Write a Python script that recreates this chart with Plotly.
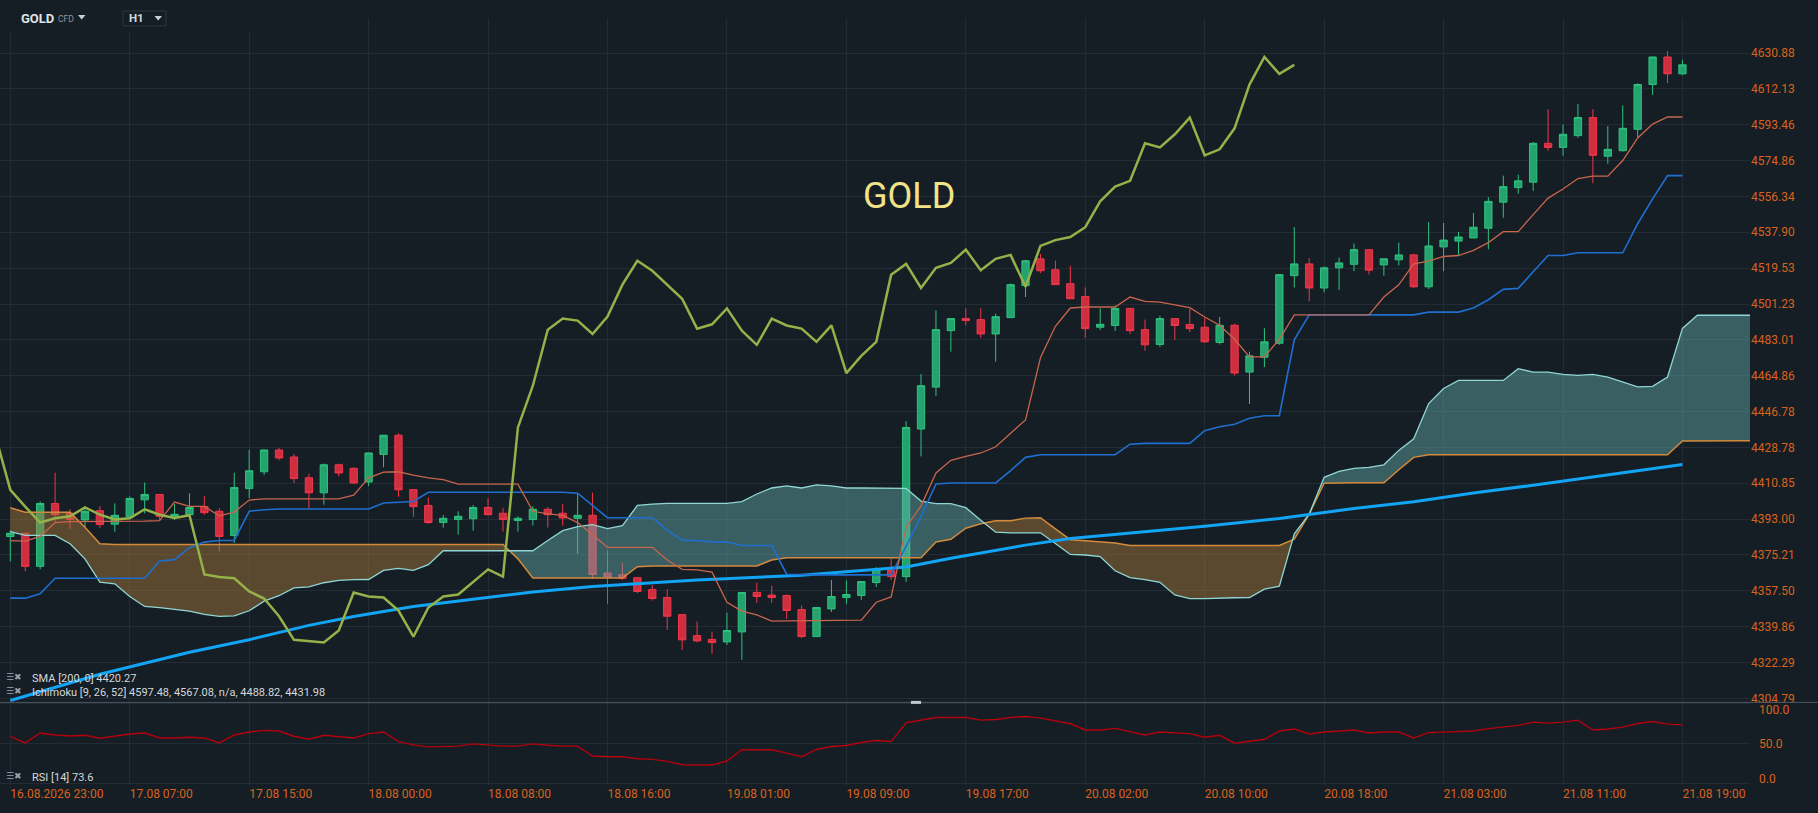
import numpy as np
import plotly.graph_objects as go

# ---- data ----
x_labels = ["16.08.2026 23:00", "17.08 07:00", "17.08 15:00", "18.08 00:00", "18.08 08:00",
            "18.08 16:00", "19.08 01:00", "19.08 09:00", "19.08 17:00", "20.08 02:00",
            "20.08 10:00", "20.08 18:00", "21.08 03:00", "21.08 11:00", "21.08 19:00"]
x_label_idx = list(range(0, 113, 8))

price_ticks = [4630.88, 4612.13, 4593.46, 4574.86, 4556.34, 4537.90, 4519.53, 4501.23, 4483.01,
               4464.86, 4446.78, 4428.78, 4410.85, 4393.00, 4375.21, 4357.50, 4339.86, 4322.29, 4304.79]

opens = [4384.4, 4386.0, 4369.6, 4400.8, 4395.9, 4392.6, 4397.2, 4390.5, 4394.2, 4402.6,
         4405.3, 4394.4, 4395.2, 4399.3, 4396.9, 4384.9, 4408.2, 4416.6, 4427.5, 4424.0,
         4413.6, 4406.1, 4420.1, 4418.3, 4411.5, 4425.3, 4434.9, 4407.7, 4399.8, 4391.3,
         4392.8, 4393.2, 4398.8, 4395.9, 4392.3, 4392.8, 4397.9, 4395.9, 4393.4, 4394.9,
         4366.3, 4365.5, 4364.0, 4358.1, 4354.2, 4345.8, 4335.5, 4333.6, 4332.4, 4337.3,
         4356.7, 4355.4, 4355.2, 4348.3, 4335.0, 4348.6, 4354.2, 4355.2, 4361.6, 4367.5,
         4364.5, 4438.0, 4459.1, 4487.7, 4493.8, 4493.3, 4486.0, 4494.3, 4510.6, 4524.3,
         4518.7, 4511.6, 4505.0, 4489.4, 4490.3, 4499.0, 4488.2, 4480.7, 4493.8, 4490.8,
         4489.4, 4481.7, 4490.4, 4466.7, 4474.2, 4481.3, 4515.7, 4521.7, 4509.4, 4519.7,
         4521.5, 4529.0, 4521.2, 4523.8, 4526.3, 4510.0, 4530.4, 4533.4, 4535.0, 4540.0,
         4553.4, 4560.9, 4563.7, 4583.8, 4581.7, 4587.8, 4597.2, 4577.1, 4580.0, 4591.1,
         4614.4, 4628.8, 4620.0]
highs = [4387.6, 4386.3, 4401.8, 4416.1, 4397.9, 4398.0, 4399.5, 4400.8, 4404.4, 4411.2,
         4405.4, 4400.5, 4405.9, 4404.4, 4398.5, 4416.1, 4427.6, 4427.8, 4428.5, 4425.5,
         4415.6, 4420.7, 4420.7, 4418.9, 4426.1, 4435.0, 4435.9, 4407.9, 4403.8, 4395.1,
         4396.9, 4400.0, 4403.4, 4398.5, 4394.4, 4399.5, 4399.0, 4400.5, 4405.9, 4406.2,
         4377.5, 4371.4, 4364.4, 4360.4, 4358.3, 4346.0, 4342.4, 4337.5, 4346.8, 4356.8,
         4361.6, 4360.1, 4355.7, 4350.3, 4349.5, 4362.9, 4362.7, 4362.2, 4369.1, 4374.0,
         4441.9, 4465.7, 4498.0, 4494.0, 4499.0, 4499.0, 4496.3, 4511.7, 4523.8, 4526.8,
         4523.4, 4520.7, 4509.7, 4499.0, 4500.4, 4499.2, 4493.3, 4495.3, 4494.0, 4498.7,
         4494.1, 4494.6, 4491.2, 4477.0, 4488.9, 4516.3, 4540.6, 4524.6, 4520.4, 4524.9,
         4532.1, 4529.2, 4524.4, 4532.6, 4526.8, 4543.2, 4542.7, 4538.1, 4547.8, 4556.0,
         4567.1, 4567.6, 4584.5, 4601.5, 4593.6, 4604.2, 4601.5, 4592.8, 4603.5, 4615.1,
         4629.0, 4631.9, 4627.3]
lows = [4372.0, 4367.1, 4368.1, 4391.4, 4388.2, 4389.0, 4388.6, 4386.8, 4393.9, 4395.9,
        4392.2, 4392.6, 4395.0, 4395.2, 4377.0, 4381.1, 4403.4, 4415.0, 4422.4, 4411.0,
        4397.9, 4400.2, 4414.3, 4410.4, 4409.4, 4418.9, 4404.1, 4394.2, 4390.6, 4388.8,
        4385.3, 4387.3, 4395.0, 4386.8, 4386.8, 4389.8, 4388.8, 4389.8, 4375.8, 4363.5,
        4351.1, 4362.9, 4356.3, 4352.7, 4338.3, 4328.5, 4332.1, 4326.5, 4330.9, 4323.6,
        4351.6, 4351.6, 4343.7, 4334.2, 4334.9, 4347.1, 4351.1, 4353.1, 4359.4, 4362.9,
        4361.9, 4424.3, 4454.7, 4477.0, 4490.3, 4484.0, 4472.0, 4494.1, 4504.8, 4517.0,
        4510.9, 4503.8, 4484.0, 4488.0, 4487.5, 4486.0, 4477.5, 4479.5, 4483.0, 4486.9,
        4481.5, 4480.7, 4465.0, 4450.6, 4469.2, 4480.5, 4509.7, 4502.6, 4507.2, 4508.4,
        4518.0, 4516.3, 4515.7, 4520.9, 4509.4, 4508.9, 4518.0, 4526.3, 4534.8, 4529.2,
        4545.4, 4557.7, 4559.2, 4580.0, 4577.4, 4586.7, 4563.2, 4573.3, 4579.5, 4587.1,
        4609.0, 4615.2, 4619.3]
closes = [4386.0, 4369.6, 4400.8, 4395.2, 4392.8, 4396.9, 4390.3, 4394.9, 4403.3, 4405.3,
          4394.4, 4395.4, 4398.8, 4396.2, 4384.4, 4408.7, 4417.1, 4427.5, 4423.5, 4413.2,
          4406.1, 4420.1, 4416.0, 4411.0, 4426.0, 4434.9, 4407.6, 4399.2, 4391.3, 4393.4,
          4394.4, 4398.8, 4395.2, 4392.8, 4393.4, 4397.9, 4395.2, 4393.6, 4394.9, 4365.6,
          4364.3, 4363.7, 4357.2, 4353.7, 4345.0, 4333.4, 4332.9, 4332.1, 4338.0, 4356.7,
          4354.7, 4354.2, 4347.8, 4335.0, 4349.3, 4354.7, 4355.7, 4362.1, 4368.1, 4364.5,
          4438.8, 4459.8, 4488.2, 4493.8, 4492.8, 4486.0, 4494.8, 4511.1, 4523.3, 4518.2,
          4511.1, 4503.9, 4488.7, 4490.9, 4499.0, 4487.7, 4480.5, 4493.8, 4490.3, 4488.7,
          4482.0, 4490.4, 4466.2, 4474.9, 4482.0, 4516.2, 4521.7, 4509.4, 4519.7, 4522.2,
          4529.0, 4518.5, 4524.3, 4526.3, 4510.0, 4530.9, 4533.9, 4535.5, 4540.5, 4553.8,
          4561.4, 4564.4, 4583.8, 4581.7, 4588.5, 4597.2, 4577.6, 4580.7, 4591.6, 4614.4,
          4628.8, 4620.0, 4624.7]

tenkan = [4382.3, 4382.1, 4384.4, 4391.3, 4391.8, 4391.8, 4391.8, 4391.8, 4391.8, 4392.0,
          4392.3, 4401.5, 4399.3, 4399.3, 4394.6, 4396.5, 4402.5, 4403.1, 4403.1, 4403.1,
          4403.1, 4403.1, 4403.1, 4404.9, 4413.6, 4416.4, 4416.6, 4414.9, 4413.6, 4412.7,
          4410.4, 4410.4, 4410.4, 4410.4, 4410.4, 4396.9, 4395.6, 4394.9, 4391.3, 4385.2,
          4379.0, 4379.0, 4379.0, 4379.0, 4372.7, 4368.1, 4367.8, 4366.7, 4351.9, 4347.5,
          4345.7, 4342.6, 4342.7, 4342.8, 4342.8, 4342.9, 4343.0, 4343.1, 4351.9, 4354.5,
          4389.0, 4399.6, 4416.0, 4422.3, 4424.3, 4426.0, 4429.1, 4436.0, 4442.6, 4474.0,
          4489.9, 4499.2, 4499.7, 4499.7, 4499.7, 4504.8, 4502.6, 4502.2, 4500.9, 4499.4,
          4494.6, 4490.4, 4483.3, 4474.4, 4474.4, 4483.3, 4495.7, 4495.7, 4495.7, 4495.7,
          4495.7, 4495.7, 4504.8, 4511.0, 4521.7, 4523.1, 4525.5, 4526.0, 4528.6, 4532.6,
          4538.2, 4538.2, 4547.0, 4555.5, 4560.2, 4565.6, 4566.8, 4566.8, 4574.9, 4586.6,
          4593.8, 4597.48, 4597.48]
kijun = [4353.9, 4353.9, 4356.1, 4363.7, 4363.7, 4363.7, 4363.7, 4363.7, 4363.7, 4363.7,
         4372.2, 4372.9, 4378.8, 4381.6, 4382.4, 4382.4, 4396.9, 4397.7, 4398.0, 4398.0,
         4398.0, 4398.0, 4398.0, 4398.0, 4398.0, 4401.0, 4401.4, 4401.8, 4406.4, 4406.4,
         4406.4, 4406.4, 4406.4, 4406.4, 4406.4, 4406.4, 4406.4, 4406.4, 4405.9, 4400.0,
         4393.7, 4393.7, 4393.7, 4393.7, 4387.5, 4382.6, 4382.4, 4381.7, 4381.6, 4379.9,
         4379.9, 4379.9, 4365.7, 4365.4, 4365.4, 4365.4, 4365.4, 4365.4, 4365.4, 4365.4,
         4379.5, 4394.4, 4410.5, 4411.0, 4411.0, 4411.0, 4411.0, 4417.2, 4423.8, 4425.1,
         4425.1, 4425.1, 4425.1, 4425.1, 4425.1, 4430.4, 4430.8, 4430.8, 4430.8, 4430.8,
         4437.2, 4439.2, 4440.4, 4443.4, 4444.7, 4444.7, 4483.0, 4495.7, 4495.7, 4495.7,
         4495.7, 4495.7, 4495.7, 4495.7, 4495.7, 4497.1, 4497.1, 4497.1, 4499.2, 4503.4,
         4508.7, 4509.2, 4517.7, 4526.0, 4526.0, 4527.4, 4527.4, 4527.4, 4527.4, 4542.3,
         4555.1, 4567.08, 4567.08]

# leading spans run 26 bars past the last candle; only the part inside the window is kept
span_a = [4386.8, 4384.9, 4384.9, 4384.9, 4380.8, 4373.3, 4361.8, 4361.0, 4354.7, 4349.8,
          4349.2, 4348.2, 4347.5, 4345.9, 4344.9, 4345.2, 4347.7, 4352.4, 4355.1, 4359.0,
          4359.5, 4361.5, 4362.7, 4363.0, 4363.1, 4367.6, 4368.6, 4367.6, 4370.4, 4377.3,
          4377.3, 4377.3, 4377.3, 4377.3, 4377.3, 4377.3, 4382.4, 4387.3, 4389.3, 4390.3,
          4388.3, 4389.8, 4399.8, 4400.5, 4400.8, 4400.8, 4400.8, 4400.8, 4400.8, 4401.7,
          4405.5, 4408.5, 4409.6, 4408.5, 4410.1, 4409.6, 4408.5, 4408.5, 4408.5, 4408.5,
          4408.3, 4402.0, 4400.7, 4400.7, 4398.7, 4392.5, 4386.5, 4386.2, 4386.2, 4386.2,
          4380.9, 4375.5, 4375.2, 4374.4, 4367.4, 4364.0, 4363.0, 4361.7, 4355.5, 4353.7,
          4353.7, 4354.0, 4354.1, 4354.2, 4358.3, 4359.8, 4385.7, 4395.5, 4413.8, 4416.8,
          4418.3, 4418.8, 4420.1, 4427.3, 4433.1, 4450.8, 4458.4, 4462.5, 4462.5, 4462.5,
          4462.5, 4468.4, 4466.7, 4466.7, 4465.5, 4465.0, 4465.5, 4464.2, 4461.7, 4459.2,
          4459.5, 4464.2, 4488.82, 4495.5, 4495.5, 4495.5, 4495.5, 4495.5]
span_b = [4398.7, 4396.4, 4396.4, 4396.4, 4396.4, 4389.0, 4380.8, 4380.4, 4380.4, 4380.4,
          4380.4, 4380.4, 4380.4, 4380.4, 4380.4, 4380.4, 4380.4, 4380.4, 4380.4, 4380.4,
          4380.4, 4380.4, 4380.4, 4380.4, 4380.4, 4380.4, 4380.4, 4380.4, 4380.4, 4380.4,
          4380.4, 4380.4, 4380.4, 4380.4, 4373.3, 4363.8, 4363.8, 4363.8, 4363.8, 4363.8,
          4363.8, 4363.8, 4369.4, 4369.8, 4369.8, 4369.8, 4369.8, 4369.8, 4369.8, 4369.8,
          4369.8, 4372.7, 4373.8, 4373.8, 4373.8, 4373.8, 4373.8, 4373.8, 4373.8, 4373.8,
          4373.8, 4373.8, 4381.7, 4383.0, 4388.5, 4390.7, 4392.2, 4392.2, 4393.5, 4393.7,
          4388.2, 4382.8, 4382.3, 4381.7, 4381.2, 4379.9, 4379.9, 4379.9, 4379.9, 4379.9,
          4379.9, 4379.9, 4379.9, 4379.9, 4379.9, 4379.9, 4383.1, 4395.5, 4410.9, 4411.1,
          4411.1, 4411.1, 4411.1, 4417.6, 4423.8, 4425.1, 4425.1, 4425.1, 4425.1, 4425.1,
          4425.1, 4425.1, 4425.1, 4425.1, 4425.1, 4425.1, 4425.1, 4425.1, 4425.1, 4425.1,
          4425.1, 4425.1, 4431.98, 4432.1, 4432.1, 4432.1, 4432.1, 4432.1]

# SMA 200 read at a handful of bars (it is almost a straight line)
sma_idx = [0, 6, 12, 16, 20, 23, 27, 31, 35, 39, 46, 53, 60, 63, 68, 71, 76, 80, 85, 90, 94,
           98, 102, 106, 109, 112]
sma_val = [4303.8, 4316.6, 4327.3, 4333.5, 4340.5, 4344.9, 4349.8, 4353.3, 4356.9, 4359.7,
           4362.9, 4365.2, 4369.3, 4373.6, 4380.1, 4383.4, 4386.7, 4389.5, 4393.3, 4398.3,
           4401.6, 4406.0, 4409.9, 4414.0, 4417.3, 4420.27]

rsi = [59.2, 50.8, 63.3, 60.8, 59.6, 60.4, 56.7, 59.2, 62.1, 63.3,
       57.1, 57.1, 57.9, 57.1, 50.8, 60.8, 64.6, 66.7, 65.8, 59.2,
       55.4, 60.4, 59.2, 57.1, 62.5, 64.6, 52.5, 48.3, 45.8, 46.7,
       46.7, 49.6, 47.9, 46.7, 46.7, 49.6, 47.9, 46.7, 46.7, 34.2,
       33.3, 33.3, 30.8, 30.0, 27.5, 23.3, 22.9, 22.9, 27.9, 42.1,
       42.1, 42.1, 37.9, 33.3, 42.5, 46.3, 47.5, 51.3, 53.8, 52.5,
       76.3, 79.6, 82.9, 82.9, 82.9, 79.6, 80.4, 82.9, 84.2, 82.1,
       78.8, 75.0, 67.1, 67.1, 69.2, 64.6, 60.8, 64.6, 63.8, 62.5,
       57.9, 60.4, 50.4, 52.9, 55.4, 65.8, 68.3, 62.1, 64.6, 65.8,
       67.1, 63.3, 64.6, 64.6, 57.1, 63.8, 64.6, 64.6, 65.8, 68.8,
       71.3, 72.9, 77.1, 75.8, 77.1, 79.6, 67.1, 68.3, 70.8, 75.4,
       77.9, 74.6, 73.6]
rsi_levels = [0, 50, 100]
rsi_level_text = ['0.0', '50.0', '100.0']

bars = list(range(len(closes)))
cloud_x = list(range(len(span_a)))

# ---- look ----
W, H = 1818, 813
BG = '#161e25'
GRID = '#232c34'
ORANGE = '#d9621c'
PLOT_R = 1750


def px(x):
    return x / W


def py(y):
    return 1 - y / H


def cloud_pieces(xs, a, b):
    # split the cloud where the two spans cross so each piece gets one colour
    pieces = []
    cx, ca, cb = [xs[0]], [a[0]], [b[0]]
    up = a[0] >= b[0]
    for i in range(1, len(xs)):
        now_up = a[i] >= b[i]
        if now_up != up:
            d0 = a[i - 1] - b[i - 1]
            d1 = a[i] - b[i]
            t = d0 / (d0 - d1)
            xc = xs[i - 1] + t * (xs[i] - xs[i - 1])
            yc = a[i - 1] + t * (a[i] - a[i - 1])
            cx.append(xc); ca.append(yc); cb.append(yc)
            pieces.append((up, cx, ca, cb))
            cx, ca, cb = [xc], [yc], [yc]
            up = now_up
        cx.append(xs[i]); ca.append(a[i]); cb.append(b[i])
    pieces.append((up, cx, ca, cb))
    return pieces


fig = go.Figure()

fig.add_trace(go.Candlestick(
    x=bars, open=opens, high=highs, low=lows, close=closes,
    increasing=dict(line=dict(color='#2ec27e', width=1), fillcolor='#25a36f'),
    decreasing=dict(line=dict(color='#f0364a', width=1), fillcolor='#cf2e3f'),
    whiskerwidth=0, hoverinfo='skip', xaxis='x', yaxis='y'))

for up, cx, ca, cb in cloud_pieces(cloud_x, span_a, span_b):
    fig.add_trace(go.Scatter(
        x=cx + cx[::-1], y=ca + cb[::-1], mode='lines', fill='toself',
        fillcolor='rgba(100,175,175,0.45)' if up else 'rgba(176,127,60,0.45)',
        line=dict(width=0), hoverinfo='skip'))

fig.add_trace(go.Scatter(x=cloud_x, y=span_b, mode='lines', line=dict(color='#d48a3c', width=1.5)))
fig.add_trace(go.Scatter(x=cloud_x, y=span_a, mode='lines', line=dict(color='#8fd6d4', width=1.3)))
fig.add_trace(go.Scatter(x=sma_idx, y=sma_val, mode='lines', line=dict(color='#12a4f5', width=3)))
fig.add_trace(go.Scatter(x=bars, y=kijun, mode='lines', line=dict(color='#1f6fd0', width=1.6)))
fig.add_trace(go.Scatter(x=bars, y=tenkan, mode='lines', line=dict(color='#c8654d', width=1.3)))
# lagging span: closes drawn 26 bars back (first point sits just left of the window)
fig.add_trace(go.Scatter(x=[i - 26 for i in bars[25:]], y=closes[25:], mode='lines',
                         line=dict(color='#94b14a', width=2.5)))

fig.add_trace(go.Scatter(x=bars, y=rsi, mode='lines', line=dict(color='#b3000c', width=1.4),
                         xaxis='x2', yaxis='y2'))

x_range = [-10.3 / 14.93, (PLOT_R - 10.3) / 14.93]
axis_font = dict(family='Roboto', size=12, color=ORANGE)

fig.update_layout(
    width=W, height=H, margin=dict(l=0, r=0, t=0, b=0),
    paper_bgcolor=BG, plot_bgcolor=BG, showlegend=False,
    xaxis=dict(domain=[0, px(PLOT_R)], range=x_range, anchor='y',
               tickvals=x_label_idx, showticklabels=False, showgrid=True, gridcolor=GRID,
               zeroline=False, showline=False, rangeslider=dict(visible=False)),
    yaxis=dict(domain=[py(705), py(18)], type='log', anchor='x', side='right',
               range=[np.log10(4302.85), np.log10(4649.3)],
               tickvals=price_ticks, ticktext=[f'{v:.2f}' for v in price_ticks],
               tickfont=axis_font, gridcolor=GRID, zeroline=False, showline=False),
    xaxis2=dict(domain=[0, px(PLOT_R)], range=x_range, anchor='y2', matches='x',
                tickvals=x_label_idx, ticktext=x_labels, ticklabelposition='outside right',
                tickfont=axis_font, showgrid=True, gridcolor=GRID, zeroline=False, showline=False),
    yaxis2=dict(domain=[py(788), py(705)], range=[-2.5, 102], anchor='x2', side='right',
                tickvals=rsi_levels, showticklabels=False,
                gridcolor=GRID, zeroline=False, showline=False),
)

shapes = [
    # pane separator and its little handle
    dict(type='line', xref='paper', yref='paper', x0=0, x1=1, y0=py(705), y1=py(705),
         line=dict(color='#4d5761', width=1)),
    dict(type='rect', xref='paper', yref='paper', x0=px(911), x1=px(921), y0=py(706.5), y1=py(703.5),
         fillcolor='#c4c9ce', line=dict(width=0)),
    # header strip
    dict(type='rect', xref='paper', yref='paper', x0=0, x1=px(250), y0=py(32), y1=1,
         fillcolor=BG, line=dict(width=0), layer='above'),
    dict(type='rect', xref='paper', yref='paper', x0=px(123), x1=px(166), y0=py(26), y1=py(11),
         fillcolor=BG, line=dict(color='#2c353e', width=1), layer='above'),
    dict(type='path', xref='paper', yref='paper', layer='above',
         path=f'M {px(78)} {py(15)} L {px(85.5)} {py(15)} L {px(81.7)} {py(19.5)} Z',
         fillcolor='#c9ced3', line=dict(width=0)),
    dict(type='path', xref='paper', yref='paper', layer='above',
         path=f'M {px(154.5)} {py(16)} L {px(162)} {py(16)} L {px(158.2)} {py(20.5)} Z',
         fillcolor='#c9ced3', line=dict(width=0)),
]
fig.update_layout(shapes=shapes)

ann = [
    dict(text='<b>GOLD</b>', x=px(19), y=py(18.5), font=dict(family='Roboto', size=13, color='#dfe3e7')),
    dict(text='CFD', x=px(55.5), y=py(19.5), font=dict(family='Roboto', size=8.5, color='#8c959e')),
    dict(text='<b>H1</b>', x=px(127), y=py(18.5), font=dict(family='Roboto', size=11.5, color='#d4d8dc')),
    dict(text='SMA [200, 0] 4420.27', x=px(30), y=py(681),
         font=dict(family='Roboto', size=11, color='#d4d8dc')),
    dict(text='Ichimoku [9, 26, 52] 4597.48, 4567.08, n/a, 4488.82, 4431.98', x=px(30), y=py(695),
         font=dict(family='Roboto', size=11, color='#d4d8dc')),
    dict(text='RSI [14] 73.6', x=px(30), y=py(780), font=dict(family='Roboto', size=11, color='#d4d8dc')),
]
for yy in (681, 695, 780):
    ann.append(dict(text='☰✖', x=px(4), y=py(yy - 1), font=dict(family='DejaVu Sans', size=9, color='#9aa2aa')))
for a in ann:
    fig.add_annotation(xref='paper', yref='paper', xanchor='left', yanchor='middle', showarrow=False, **a)

# RSI scale labels sit inside the pane (top and bottom ones are pulled in, as in the app)
for lvl, txt, ypx in zip(rsi_levels, rsi_level_text, [781.7, 746.7, 713]):
    fig.add_annotation(text=txt, xref='paper', yref='paper', x=px(1757), y=py(ypx),
                       xanchor='left', yanchor='middle', showarrow=False, font=axis_font)

fig.add_annotation(text='GOLD', xref='paper', yref='paper', x=0.5, y=py(197), xanchor='center',
                   yanchor='middle', showarrow=False,
                   font=dict(family='Roboto', size=36, color='#f1e388'))

fig.write_html("out.html", config={'displayModeBar': False},
               post_script="document.body.style.margin='0';"
                           "document.body.style.background='#161e25';")
